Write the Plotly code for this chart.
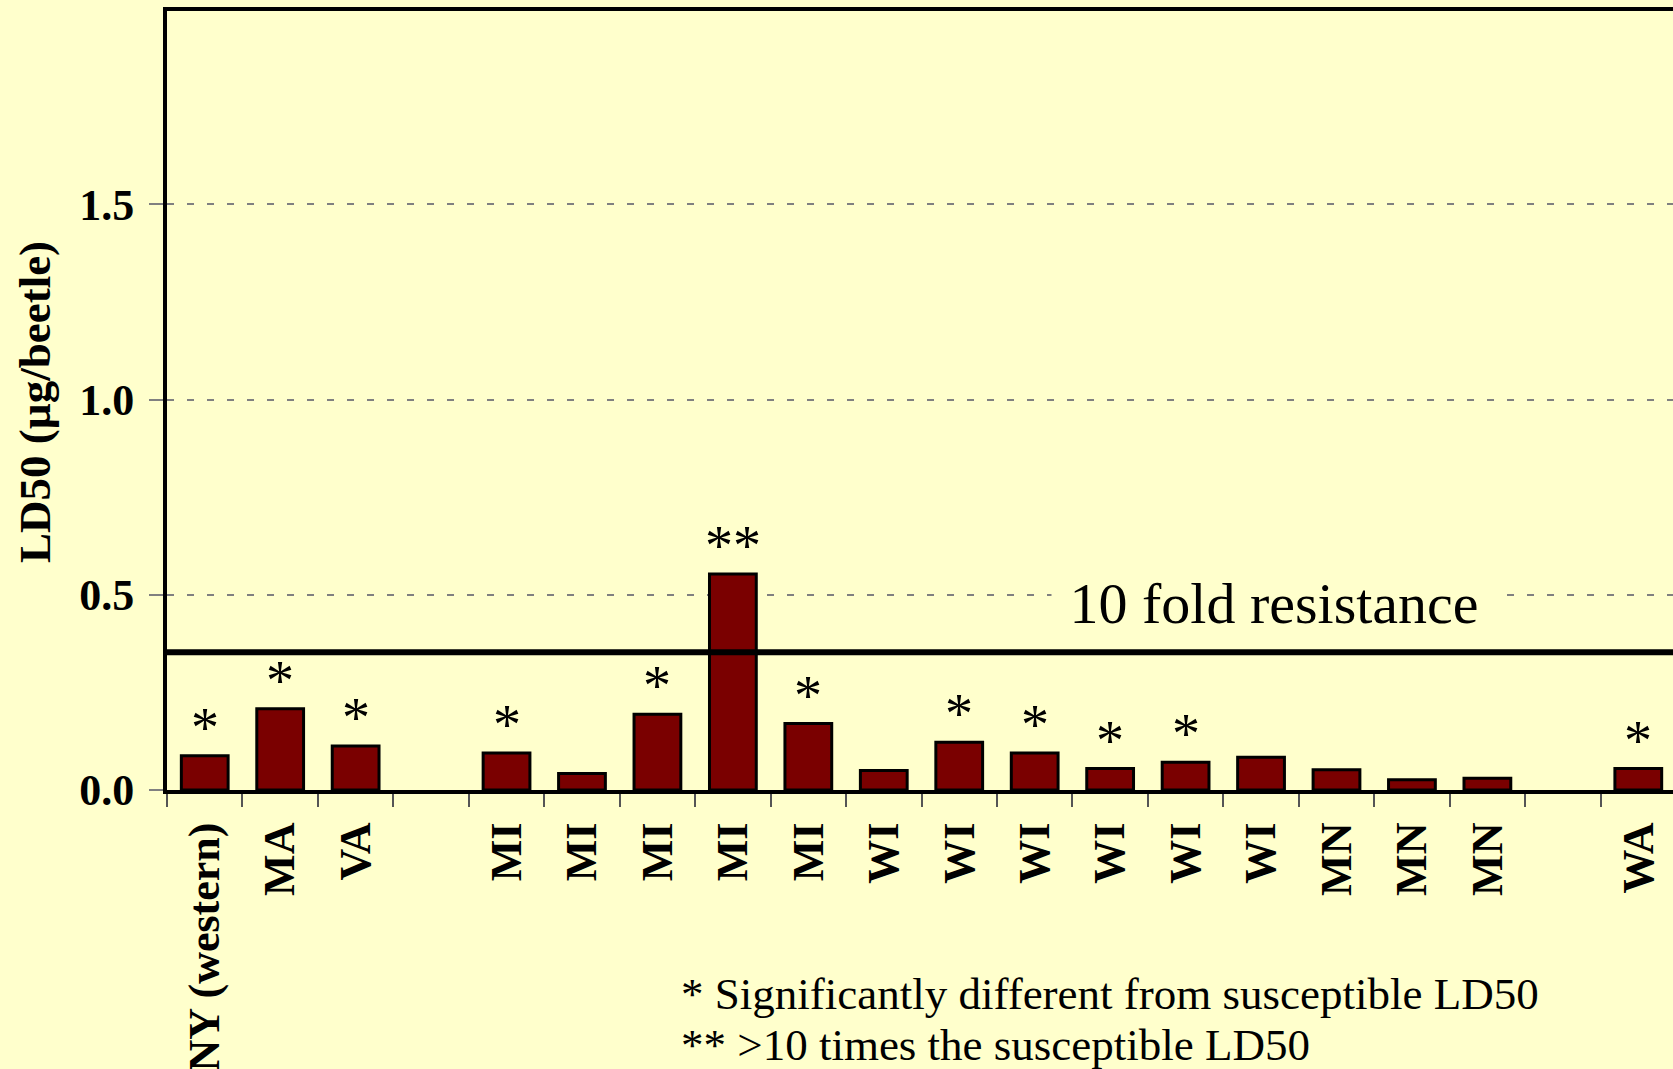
import plotly.graph_objects as go

# ---------------- data ----------------
labels = ["NY (western)", "MA", "VA", "", "MI", "MI", "MI", "MI", "MI",
          "WI", "WI", "WI", "WI", "WI", "WI", "MN", "MN", "MN", "", "WA"]
ld50 = [0.088, 0.208, 0.113, None, 0.095, 0.042, 0.194, 0.553, 0.170,
        0.050, 0.122, 0.095, 0.055, 0.071, 0.084, 0.052, 0.026, 0.030, None, 0.055]
signif = ["*", "*", "*", "", "*", "", "*", "**", "*",
          "", "*", "*", "*", "*", "", "", "", "", "", "*"]
threshold = 0.353
threshold_label = "10 fold resistance"
y_ticks = [0.0, 0.5, 1.0, 1.5]
y_title = "LD50 (µg/beetle)"
notes = ["* Significantly different from susceptible LD50",
         "** >10 times the susceptible LD50"]

# ---------------- figure ----------------
W, H = 1673, 1069
L, R, T, B = 167, 0, 11, 279
PW, PH = W - L - R, H - T - B
BG = "#FFFFCC"
SERIF = "Liberation Serif, Times New Roman, serif"

x = list(range(len(labels)))

fig = go.Figure()
fig.add_trace(go.Bar(
    x=x, y=ld50, width=0.62,
    marker=dict(color="#7A0000", line=dict(color="black", width=3)),
    hoverinfo="skip", showlegend=False,
))

fig.add_shape(type="line", xref="paper", x0=0, x1=1, yref="y",
              y0=threshold, y1=threshold,
              line=dict(color="black", width=6), layer="above")

annotations = []
for xi, v, s in zip(x, ld50, signif):
    if s and v is not None:
        annotations.append(dict(
            x=xi, y=v, xref="x", yref="y", text=s, showarrow=False,
            yanchor="middle", yshift=28,
            font=dict(family=SERIF, size=56, color="black")))

def px_to_paper_x(px):
    return (px - L) / PW

def px_to_paper_y(py):
    return (H - B - py) / PH

annotations.append(dict(
    x=px_to_paper_x(1274), y=px_to_paper_y(603), xref="paper", yref="paper",
    text="\u00a0" + threshold_label + "\u00a0", showarrow=False,
    xanchor="center", yanchor="middle", bgcolor=BG, borderpad=3,
    font=dict(family=SERIF, size=58, color="black")))

annotations.append(dict(
    x=px_to_paper_x(35), y=px_to_paper_y(402), xref="paper", yref="paper",
    text="<b>" + y_title + "</b>", showarrow=False, textangle=-90,
    xanchor="center", yanchor="middle",
    font=dict(family=SERIF, size=45, color="black")))

for note, cy in zip(notes, [994, 1045]):
    annotations.append(dict(
        x=px_to_paper_x(679), y=px_to_paper_y(cy), xref="paper", yref="paper",
        text=note, showarrow=False, xanchor="left", yanchor="middle",
        font=dict(family=SERIF, size=45, color="black")))

fig.update_layout(
    width=W, height=H,
    margin=dict(l=L, r=R, t=T, b=B, pad=0),
    paper_bgcolor=BG, plot_bgcolor=BG,
    annotations=annotations,
    xaxis=dict(
        range=[-0.5, 19.46], tickmode="array", tickvals=x, ticktext=labels,
        tickangle=-90, ticks="", showgrid=False, zeroline=False,
        showline=True, linecolor="black", linewidth=4, mirror=True,
        tickfont=dict(family=SERIF, size=44, color="black", weight="bold"),
        ticklabelstandoff=11,
        minor=dict(tickmode="array", tickvals=[i - 0.5 for i in range(len(labels) + 1)],
                   ticks="outside", ticklen=13, tickcolor="#555555", tickwidth=1.5,
                   showgrid=False),
        automargin=False, fixedrange=True,
    ),
    yaxis=dict(
        range=[0, 1.995], tickmode="array", tickvals=y_ticks,
        ticktext=[f"{v:.1f}" for v in y_ticks],
        ticks="outside", ticklen=14, tickcolor="#808080", tickwidth=1.5,
        showgrid=True, gridcolor="#808080", gridwidth=1.5, griddash="7px,13px",
        zeroline=False, showline=True, linecolor="black", linewidth=4,
        tickfont=dict(family=SERIF, size=44, color="black", weight="bold"),
        ticklabelstandoff=6,
        automargin=False, fixedrange=True,
    ),
)

fig.write_html(
    "out.html",
    config={"displayModeBar": False},
    post_script="document.body.style.margin='0';"
                "document.body.style.background='#FFFFCC';"
                "document.body.style.overflow='hidden';",
)
